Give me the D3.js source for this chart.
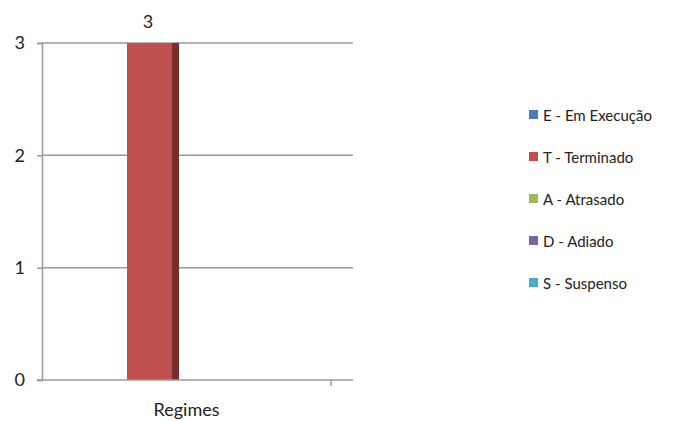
<!DOCTYPE html>
<html><head><meta charset="utf-8">
<script src="https://cdn.jsdelivr.net/npm/d3@7"></script>
<style>body{margin:0;background:#fff}svg{display:block}text{font-family:Lato,sans-serif;fill:#222}</style>
</head><body>
<svg width="680" height="421"></svg>
<script>
const categories = ["Regimes"];
const seriesNames = ["E - Em Execução","T - Terminado","A - Atrasado","D - Adiado","S - Suspenso"];
const seriesValues = [0, 3, 0, 0, 0];
const seriesColors = ["#4a7ebb","#c0504d","#9bbb59","#8064a2","#4bacc6"];
const sideColors = ["#2c4d73","#7a2e2c","#5f7436","#4d3c62","#2d6a7a"];
const yTicks = [0,1,2,3];

const svg = d3.select("svg");
const y = d3.scaleLinear().domain([0,3]).range([380,43]);
const x = d3.scaleBand().domain(categories).range([42,331]);
const inner = d3.scaleBand().domain(seriesNames).range([x(categories[0])+33, x(categories[0])+x.bandwidth()+4]);
const depth = 7;

// gridlines
svg.append("g").selectAll("line").data(yTicks.filter(d=>d>0)).join("line")
  .attr("x1",42).attr("x2",353).attr("y1",d=>y(d)).attr("y2",d=>y(d))
  .attr("stroke","#9a9a9a").attr("stroke-width",1.5);

// bars
const bw = inner.bandwidth()-depth;
const bars = svg.append("g");
seriesNames.forEach((s,i)=>{
  const v = seriesValues[i];
  if(v<=0) return;
  const x0 = inner(s);
  bars.append("rect").attr("x",x0).attr("y",y(v)).attr("width",bw).attr("height",y(0)-y(v)).attr("fill",seriesColors[i]);
  bars.append("rect").attr("x",x0+bw).attr("y",y(v)).attr("width",depth).attr("height",y(0)-y(v)).attr("fill",sideColors[i]);
  svg.append("text").attr("x",x0+(bw+depth)/2-5).attr("y",y(v)-15).attr("text-anchor","middle")
    .attr("font-size",18).text(v);
});

// axes
const ya = d3.axisLeft(y).tickValues(yTicks).tickFormat(d3.format("d")).tickSize(5).tickPadding(12);
const gy = svg.append("g").attr("transform","translate(42,0)").call(ya);
gy.select(".domain").attr("stroke","#9a9a9a").attr("stroke-width",1.5);
gy.selectAll(".tick line").attr("stroke","#9a9a9a").attr("stroke-width",1.5);
gy.selectAll("text").attr("font-size",18).attr("font-family","Lato, sans-serif").attr("fill","#222");

svg.append("line").attr("x1",37).attr("x2",353).attr("y1",y(0)).attr("y2",y(0)).attr("stroke","#9a9a9a").attr("stroke-width",1.5);
svg.append("line").attr("x1",331).attr("x2",331).attr("y1",y(0)).attr("y2",y(0)+6).attr("stroke","#9a9a9a").attr("stroke-width",1.5);

svg.append("text").attr("x",x(categories[0])+x.bandwidth()/2).attr("y",416)
  .attr("text-anchor","middle").attr("font-size",18).text(categories[0]);

// legend
const lg = svg.append("g").attr("transform","translate(529,115)");
seriesNames.forEach((s,i)=>{
  const g = lg.append("g").attr("transform",`translate(0,${i*42})`);
  g.append("rect").attr("x",0).attr("y",-5).attr("width",9).attr("height",9).attr("fill",seriesColors[i]);
  g.append("text").attr("x",14).attr("y",6).attr("font-size",15).text(s);
});
</script>
</body></html>
